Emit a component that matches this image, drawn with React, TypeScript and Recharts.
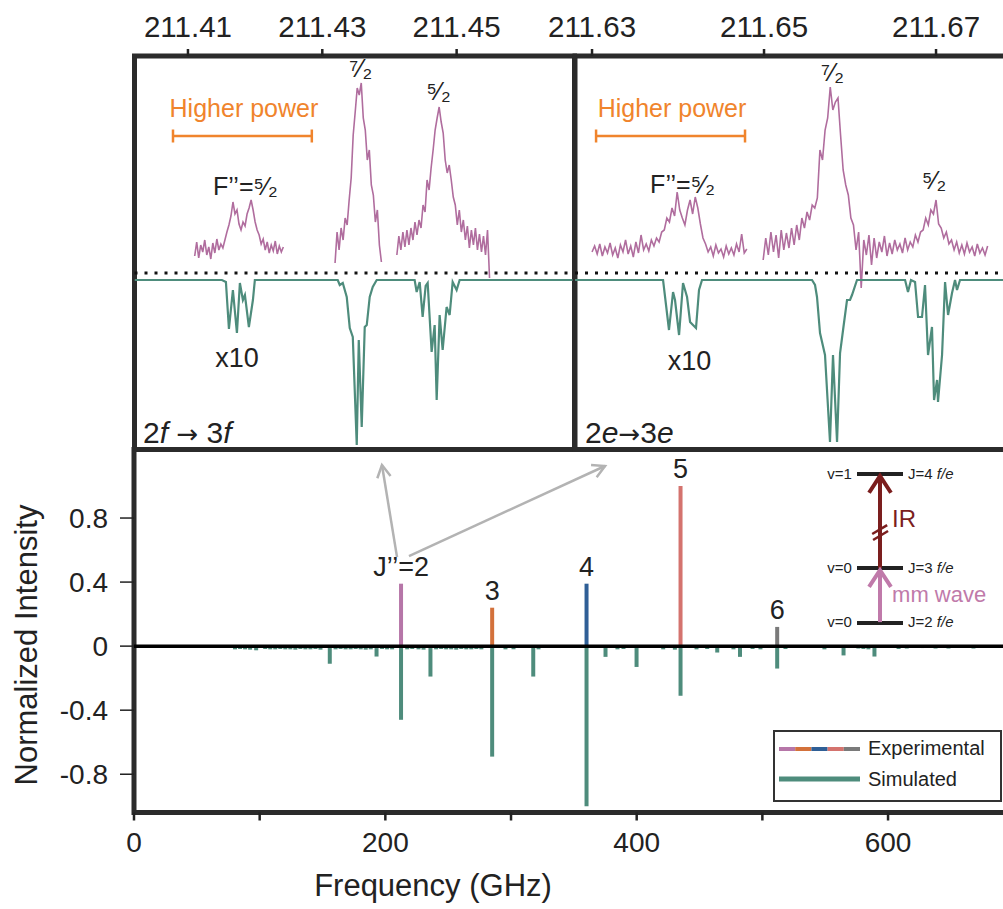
import React from 'react';
import {
  ComposedChart,
  LineChart,
  Line,
  Bar,
  Cell,
  XAxis,
  YAxis,
  ReferenceLine,
  ReferenceArea,
  ReferenceDot,
  LabelList,
  Legend,
} from 'recharts';

const FONT = '"Liberation Sans", Arial, Helvetica, sans-serif';
const INK = '#222222';
const FRAME = '#2b2b2b';
const TRACE = '#b06d9e';
const SIM = '#4e8c7c';
const ORANGE = '#f0842c';
const IR_RED = '#7b1e1e';
const MM_PINK = '#c07aaa';
const ARROW_GREY = '#b3b3b3';

// ---- top panels: frequency in GHz, signal in arbitrary units ----
const topY = [-1.695, 2.24];
const leftDomain = [211.40204, 211.46755];
const rightDomain = [211.62802, 211.67895];
const leftTicks = [211.41, 211.43, 211.45];
const rightTicks = [211.63, 211.65, 211.67];
const expStep = 0.0003;

// experimental traces (left panel, 2f -> 3f)
const leftExpAStart = 211.411;
const leftExpA = [
  0.24, 0.38, 0.22, 0.35, 0.28, 0.4, 0.25, 0.33, 0.21, 0.37,
  0.27, 0.41, 0.3, 0.36, 0.32, 0.4, 0.48, 0.55, 0.64, 0.78,
  0.66, 0.7, 0.56, 0.5, 0.58, 0.54, 0.66, 0.72, 0.8, 0.7,
  0.58, 0.5, 0.45, 0.36, 0.41, 0.3, 0.38, 0.27, 0.35, 0.29,
  0.39, 0.26, 0.34, 0.28, 0.33,
];
const leftExpBStart = 211.4319;
const leftExpB = [
  0.17, 0.48, 0.3, 0.52, 0.4, 0.62, 0.55, 0.8, 1.02, 1.45, 1.68, 1.92,
  1.85, 1.97, 1.62, 1.5, 1.2, 1.3, 0.95, 0.85, 0.58, 0.7, 0.35, 0.18,
];
const leftExpCStart = 211.4411;
const leftExpC = [
  0.25, 0.44, 0.3, 0.48, 0.33, 0.5, 0.35, 0.52, 0.4, 0.58,
  0.45, 0.6, 0.52, 0.75, 0.68, 1.0, 0.9, 1.12, 1.3, 1.5,
  1.62, 1.73, 1.58, 1.47, 1.2, 1.07, 1.15, 1.0, 0.83, 0.75,
  0.55, 0.7, 0.48, 0.6, 0.4, 0.54, 0.32, 0.5, 0.35, 0.52,
  0.3, 0.46, 0.28, 0.44, 0.25, 0.5, 0.02,
];

// experimental traces (right panel, 2e -> 3e)
const rightExpAStart = 211.63;
const rightExpA = [
  0.28, 0.34, 0.26, 0.36, 0.24, 0.33, 0.27, 0.37, 0.25, 0.32,
  0.22, 0.35, 0.28, 0.4, 0.26, 0.34, 0.23, 0.38, 0.27, 0.45,
  0.3, 0.36, 0.29, 0.4, 0.34, 0.42, 0.38, 0.48, 0.5, 0.62,
  0.58, 0.72, 0.64, 0.88, 0.7, 0.62, 0.55, 0.7, 0.8, 0.66,
  0.83, 0.72, 0.56, 0.42, 0.36, 0.28, 0.33, 0.24, 0.35, 0.27,
  0.31, 0.23, 0.34, 0.26, 0.32, 0.25, 0.36, 0.28, 0.46, 0.27,
  0.31,
];
const rightExpBStart = 211.6499;
const rightExpB = [
  0.2, 0.42, 0.25, 0.48, 0.28, 0.45, 0.22, 0.5, 0.3, 0.47,
  0.32, 0.52, 0.35, 0.55, 0.4, 0.62, 0.52, 0.68, 0.6, 0.75,
  0.72, 0.82, 1.3, 1.2, 1.5, 1.62, 1.93, 1.7, 1.78, 1.82,
  1.45, 1.1, 0.95, 0.85, 0.62, 0.55, 0.3, 0.48, -0.08, 0.4,
  0.25, 0.45, 0.15, 0.42, 0.22, 0.38, 0.28, 0.44, 0.24, 0.37,
  0.26, 0.4, 0.3, 0.36, 0.27, 0.42, 0.3, 0.38, 0.33, 0.45,
  0.38, 0.48, 0.5, 0.62, 0.55, 0.7, 0.66, 0.8, 0.56, 0.52,
  0.42, 0.48, 0.36, 0.4, 0.3, 0.38, 0.27, 0.35, 0.26, 0.37,
  0.28, 0.33, 0.24, 0.36, 0.27, 0.32, 0.25, 0.34,
];

// simulated spectra (x10 on the weak group), [GHz, signal]
const leftSim: [number, number][] = [
  [211.40204, 0], [211.41506, 0], [211.41565, -0.02], [211.4161, -0.49], [211.41669, -0.1],
  [211.41729, -0.53], [211.41773, -0.03], [211.41818, -0.2], [211.41848, -0.15], [211.41907, -0.47],
  [211.41967, -0.2], [211.41996, 0], [211.4323, 0], [211.4326, -0.05], [211.43305, -0.03],
  [211.43364, -0.17], [211.43409, -0.48], [211.43454, -0.57], [211.43513, -1.65], [211.43543, -0.6],
  [211.43587, -1.47], [211.43632, -0.47], [211.43662, -0.45], [211.43706, -0.17], [211.43751, -0.07],
  [211.4381, 0], [211.44375, 0], [211.44405, -0.12], [211.4445, -0.02], [211.44494, -0.37],
  [211.44539, -0.06], [211.44569, -0.03], [211.44628, -0.72], [211.44673, -0.45], [211.44703, -1.2],
  [211.44747, -0.35], [211.44792, -0.7], [211.44851, -0.27], [211.44896, -0.35], [211.44941, -0.02],
  [211.45, -0.1], [211.45045, 0], [211.46755, 0],
];
const rightSim: [number, number][] = [
  [211.62802, 0], [211.63826, 0], [211.63895, -0.5], [211.63942, -0.12], [211.63965, -0.2],
  [211.64012, -0.55], [211.64058, -0.03], [211.64105, -0.17], [211.6414, -0.42], [211.64174, -0.45],
  [211.64209, -0.48], [211.64244, -0.1], [211.64279, 0], [211.65558, 0], [211.65593, -0.05],
  [211.65616, -0.17], [211.65651, -0.53], [211.65709, -0.75], [211.65767, -1.62], [211.65802, -0.75],
  [211.65849, -1.62], [211.65884, -0.73], [211.65919, -0.5], [211.65965, -0.2], [211.66, -0.2],
  [211.66023, -0.15], [211.66081, 0], [211.6664, 0], [211.66674, -0.12], [211.66709, 0],
  [211.66756, -0.02], [211.66791, -0.37], [211.66837, -0.37], [211.66872, -0.05], [211.66907, -0.75],
  [211.66953, -0.47], [211.66977, -1.2], [211.67012, -1.0], [211.67023, -1.22], [211.6707, -0.75],
  [211.67105, -0.02], [211.6714, -0.35], [211.67186, -0.13], [211.67221, 0], [211.67244, -0.1],
  [211.67279, 0], [211.67895, 0],
];

// ---- bottom panel: stick spectrum ----
const stickDomain = [0, 705];
const stickY = [-1.039, 1.228];
const freqTicks = [0, 100, 200, 300, 400, 500, 600];
const intensityTicks = [-0.8, -0.4, 0, 0.4, 0.8];

const simFreq = [
  80, 84, 88, 92, 96.8, 104, 108, 112, 116, 120,
  124, 128, 132, 136, 140, 144, 148, 155.4, 160, 164,
  168, 172, 176, 180, 184, 188, 192.6, 197, 201, 205,
  212.1, 217, 221, 226, 230, 235.5, 240, 244, 248, 252,
  256, 260, 264, 268, 272, 276, 284.6, 295.2, 301.6, 317.3,
  321.5, 359.7, 374.8, 384.3, 389.1, 399.5, 420.7, 430, 434.5, 447.2,
  455.7, 463.7, 476.6, 481.8, 491.8, 498.1, 511.4, 518, 549, 564.2,
  576, 580, 584, 588.8, 608, 614.5, 627, 637.4, 647.7, 667.6,
];
const simIntensity = [
  -0.02, -0.018, -0.02, -0.022, -0.026, -0.018, -0.02, -0.02, -0.018, -0.02,
  -0.02, -0.022, -0.018, -0.02, -0.02, -0.018, -0.022, -0.11, -0.02, -0.018,
  -0.02, -0.02, -0.018, -0.02, -0.022, -0.02, -0.065, -0.018, -0.02, -0.02,
  -0.46, -0.02, -0.018, -0.02, -0.022, -0.19, -0.02, -0.018, -0.02, -0.02,
  -0.022, -0.018, -0.02, -0.02, -0.018, -0.02, -0.69, -0.02, -0.02, -0.19,
  -0.02, -1.0, -0.067, -0.02, -0.018, -0.13, -0.02, -0.022, -0.31, -0.02,
  -0.018, -0.04, -0.02, -0.067, -0.018, -0.02, -0.14, -0.018, -0.02, -0.058,
  -0.015, -0.018, -0.02, -0.065, -0.018, -0.015, -0.012, -0.015, -0.015, -0.015,
];
const expFreq = [212.1, 284.6, 359.7, 434.5, 511.4];
const expIntensity = [0.39, 0.24, 0.39, 1.0, 0.12];
const expLabels = ['J’’=2', '3', '4', '5', '6'];
const EXP_COLORS = ['#b676a8', '#d3713b', '#2f5f96', '#d4736e', '#7a7a7a'];

const trace = (start: number, vals: number[]) => vals.map((v, i) => ({ f: start + i * expStep, v }));
const pairs = (list: [number, number][]) => list.map(([f, v]) => ({ f, v }));

const stickRows = simFreq.map((f, i) => {
  const k = expFreq.indexOf(f);
  return {
    f,
    sim: simIntensity[i],
    exp: k >= 0 ? expIntensity[k] : 0,
    label: k >= 0 ? expLabels[k] : undefined,
    color: k >= 0 ? EXP_COLORS[k] : SIM,
  };
});

type Anchor = 'start' | 'middle' | 'end';
function note(key: string, x: number, y: number, body: React.ReactNode, size: number, color = INK, anchor: Anchor = 'middle') {
  return (
    <ReferenceDot
      key={key}
      x={x}
      y={y}
      r={0}
      shape={(p: any) => (
        <text x={p.cx} y={p.cy} textAnchor={anchor} fontSize={size} fill={color} fontFamily={FONT}>
          {body}
        </text>
      )}
    />
  );
}

function arrowShape(color: string, width: number, head: number, spread: number) {
  return (p: any) => {
    const { x1, y1, x2, y2 } = p;
    const a = Math.atan2(y2 - y1, x2 - x1);
    const lx = x2 - head * Math.cos(a - spread);
    const ly = y2 - head * Math.sin(a - spread);
    const rx = x2 - head * Math.cos(a + spread);
    const ry = y2 - head * Math.sin(a + spread);
    return (
      <g>
        <line x1={x1} y1={y1} x2={x2} y2={y2} stroke={color} strokeWidth={width} />
        <polyline points={`${lx},${ly} ${x2},${y2} ${rx},${ry}`} fill="none" stroke={color} strokeWidth={width} />
      </g>
    );
  };
}

function seg(key: string, a: [number, number], b: [number, number], color: string, width: number) {
  return (
    <ReferenceLine
      key={key}
      segment={[{ x: a[0], y: a[1] }, { x: b[0], y: b[1] }]}
      stroke={color}
      strokeWidth={width}
    />
  );
}

function arrow(key: string, a: [number, number], b: [number, number], color: string, width: number, head: number, spread: number) {
  return (
    <ReferenceLine
      key={key}
      segment={[{ x: a[0], y: a[1] }, { x: b[0], y: b[1] }]}
      shape={arrowShape(color, width, head, spread)}
    />
  );
}

function bracket(key: string, f1: number, f2: number) {
  return [
    seg(key + 'h', [f1, 1.44], [f2, 1.44], ORANGE, 2.5),
    seg(key + 'a', [f1, 1.375], [f1, 1.505], ORANGE, 2.5),
    seg(key + 'b', [f2, 1.375], [f2, 1.505], ORANGE, 2.5),
  ];
}

const topTick = { fontSize: 29.5, fill: INK, fontFamily: FONT };
const frac = (n: string) => `${n}⁄₂`;
const ARROW_CHAR = <tspan fontFamily="DejaVu Sans" fontSize={26}>→</tspan>;

function TopPanel({
  width,
  left,
  domain,
  ticks,
  children,
}: {
  width: number;
  left: number;
  domain: number[];
  ticks: number[];
  children: React.ReactNode;
}) {
  return (
    <LineChart width={width} height={460} margin={{ top: 0, right: width - left - 440 - (width > 700 ? -2 : 0), bottom: 10.5, left }}>
      <XAxis
        type="number"
        dataKey="f"
        orientation="top"
        domain={domain}
        ticks={ticks}
        allowDataOverflow
        interval={0}
        height={56}
        axisLine={false}
        tickSize={7}
        tickMargin={12}
        tick={topTick}
        tickLine={{ stroke: INK, strokeWidth: 2.5 }}
        tickFormatter={(v: number) => v.toFixed(2)}
      />
      <YAxis type="number" hide domain={topY} allowDataOverflow />
      <ReferenceLine y={0.07} stroke="#111" strokeWidth={3} strokeDasharray="3 7" />
      {children}
      <ReferenceArea x1={domain[0]} x2={domain[1]} y1={topY[0]} y2={topY[1]} fill="none" stroke={FRAME} strokeWidth={5} />
    </LineChart>
  );
}

function LegendBox() {
  const w = 81 / EXP_COLORS.length;
  return (
    <div style={{ width: 229, height: 72, boxSizing: 'border-box', border: '2px solid #333', background: '#fff' }}>
      <svg width={225} height={68} style={{ display: 'block' }}>
        {EXP_COLORS.map((c, i) => (
          <line key={c} x1={4 + i * w} x2={4 + (i + 1) * w} y1={17} y2={17} stroke={c} strokeWidth={4} />
        ))}
        <text x={93} y={23} fontSize={20} fill={INK} fontFamily={FONT}>Experimental</text>
        <line x1={4} x2={85} y1={47} y2={47} stroke={SIM} strokeWidth={5} />
        <text x={93} y={54} fontSize={20} fill={INK} fontFamily={FONT}>Simulated</text>
      </svg>
    </div>
  );
}

export default function App() {
  const lineProps = { dataKey: 'v', dot: false, isAnimationActive: false, type: 'linear' as const };
  const expLine = { ...lineProps, stroke: TRACE, strokeWidth: 1.6 };
  const simLine = { ...lineProps, stroke: SIM, strokeWidth: 2.2 };
  const levelF: [number, number] = [575.3, 611.9];
  const levelV = [1.075, 0.4875, 0.144];
  const arrowF = 593.6;

  return (
    <div
      style={{
        position: 'absolute',
        left: 0,
        top: 0,
        width: 1003,
        height: 909,
        overflow: 'hidden',
        background: '#fff',
        fontFamily: FONT,
      }}
    >
      <div style={{ position: 'absolute', left: 0, top: 0 }}>
        <ComposedChart
          width={1020}
          height={909}
          data={stickRows}
          stackOffset="sign"
          margin={{ top: 449.5, right: 0, bottom: 6.5, left: 0 }}
        >
          <XAxis
            type="number"
            dataKey="f"
            domain={stickDomain}
            ticks={freqTicks}
            allowDataOverflow
            interval={0}
            height={90}
            axisLine={false}
            tickSize={8}
            tickMargin={12}
            tick={{ fontSize: 28, fill: INK, fontFamily: FONT }}
            tickLine={{ stroke: INK, strokeWidth: 2.5 }}
            tickFormatter={(v: number) => (v % 200 === 0 ? String(v) : '')}
            label={{
              content: () => (
                <text x={433} y={896} textAnchor="middle" fontSize={31} fill={INK} fontFamily={FONT}>
                  Frequency (GHz)
                </text>
              ),
            }}
          />
          <YAxis
            type="number"
            domain={stickY}
            ticks={intensityTicks}
            allowDataOverflow
            interval={0}
            width={134}
            axisLine={false}
            tickSize={14}
            tickMargin={12}
            tick={{ fontSize: 28, fill: INK, fontFamily: FONT }}
            tickLine={{ stroke: INK, strokeWidth: 1.5 }}
            tickFormatter={(v: number) => (v === 0 ? '0' : v.toFixed(1))}
            label={{
              content: () => (
                <text
                  x={26}
                  y={645}
                  transform="rotate(-90 26 645)"
                  textAnchor="middle"
                  dominantBaseline="central"
                  fontSize={31}
                  fill={INK}
                  fontFamily={FONT}
                >
                  Normalized Intensity
                </text>
              ),
            }}
          />
          <Bar dataKey="sim" stackId="s" fill={SIM} barSize={4} isAnimationActive={false} />
          <Bar dataKey="exp" stackId="s" barSize={4} isAnimationActive={false}>
            {stickRows.map((r, i) => (
              <Cell key={i} fill={r.color} />
            ))}
            <LabelList dataKey="label" position="top" offset={8} fill={INK} fontSize={27} fontFamily={FONT} />
          </Bar>
          <ReferenceLine y={0} stroke="#000" strokeWidth={3.5} />

          {arrow('g1', [209.3, 0.556], [197.3, 1.131], ARROW_GREY, 2.5, 14, 0.5)}
          {arrow('g2', [218.8, 0.5625], [374.8, 1.125], ARROW_GREY, 2.5, 14, 0.5)}

          {levelV.map((v, i) => seg('lv' + i, [levelF[0], v], [levelF[1], v], '#222', 4))}
          {arrow('ir', [arrowF, levelV[1]], [arrowF, 1.0625], IR_RED, 4, 20, 0.58)}
          {seg('br1', [587.4, 0.7], [599.3, 0.756], IR_RED, 2.5)}
          {seg('br2', [588.1, 0.6625], [600.0, 0.719], IR_RED, 2.5)}
          {arrow('mm', [arrowF, 0.15], [arrowF, 0.475], MM_PINK, 4, 20, 0.58)}
          {note('irt', 603.2, 0.744, 'IR', 24, IR_RED, 'start')}
          {note('mmt', 603.2, 0.275, 'mm wave', 22, MM_PINK, 'start')}
          {note('v1', 571.3, 1.044, 'v=1', 15, INK, 'end')}
          {note('v0a', 571.3, 0.456, 'v=0', 15, INK, 'end')}
          {note('v0b', 571.3, 0.119, 'v=0', 15, INK, 'end')}
          {note('j4', 615.9, 1.044, <>J=4 <tspan fontStyle="italic">f/e</tspan></>, 15, INK, 'start')}
          {note('j3', 615.9, 0.456, <>J=3 <tspan fontStyle="italic">f/e</tspan></>, 15, INK, 'start')}
          {note('j2', 615.9, 0.119, <>J=2 <tspan fontStyle="italic">f/e</tspan></>, 15, INK, 'start')}

          <ReferenceArea
            x1={stickDomain[0]}
            x2={stickDomain[1]}
            y1={stickY[0]}
            y2={stickY[1]}
            fill="none"
            stroke={FRAME}
            strokeWidth={5}
          />
          <Legend
            layout="horizontal"
            verticalAlign="middle"
            align="center"
            wrapperStyle={{ left: 773, top: 730, width: 229, height: 72 }}
            content={() => <LegendBox />}
          />
        </ComposedChart>
      </div>

      <div style={{ position: 'absolute', left: 0, top: 0 }}>
        <TopPanel width={600} left={134.5} domain={leftDomain} ticks={leftTicks}>
          <Line {...expLine} data={trace(leftExpAStart, leftExpA)} />
          <Line {...expLine} data={trace(leftExpBStart, leftExpB)} />
          <Line {...expLine} data={trace(leftExpCStart, leftExpC)} />
          <Line {...simLine} data={pairs(leftSim)} />
          {note('hpL', 211.41833, 1.63, 'Higher power', 25, ORANGE)}
          {bracket('bkL', 211.40777, 211.42844)}
          {note('fL', 211.41855, 0.85, 'F’’=' + frac('⁵'), 25)}
          {note('s7L', 211.43572, 2.03, frac('⁷'), 25)}
          {note('s5L', 211.44732, 1.8, frac('⁵'), 25)}
          {note('x10L', 211.41729, -0.87, 'x10', 27)}
          {note(
            'tL',
            211.40331,
            -1.63,
            <>
              2<tspan fontStyle="italic">f</tspan> {ARROW_CHAR} 3<tspan fontStyle="italic">f</tspan>
            </>,
            30,
            INK,
            'start',
          )}
        </TopPanel>
      </div>

      <div style={{ position: 'absolute', left: 0, top: 0 }}>
        <TopPanel width={1030} left={575} domain={rightDomain} ticks={rightTicks}>
          <Line {...expLine} data={trace(rightExpAStart, rightExpA)} />
          <Line {...expLine} data={trace(rightExpBStart, rightExpB)} />
          <Line {...simLine} data={pairs(rightSim)} />
          {note('hpR', 211.6393, 1.63, 'Higher power', 25, ORANGE)}
          {bracket('bkR', 211.63047, 211.64779)}
          {note('fR', 211.64052, 0.87, 'F’’=' + frac('⁵'), 25)}
          {note('s7R', 211.65797, 1.99, frac('⁷'), 25)}
          {note('s5R', 211.66977, 0.91, frac('⁵'), 25)}
          {note('x10R', 211.64134, -0.9, 'x10', 27)}
          {note(
            'tR',
            211.62919,
            -1.63,
            <>
              2<tspan fontStyle="italic">e</tspan>{ARROW_CHAR}3<tspan fontStyle="italic">e</tspan>
            </>,
            30,
            INK,
            'start',
          )}
        </TopPanel>
      </div>
    </div>
  );
}
